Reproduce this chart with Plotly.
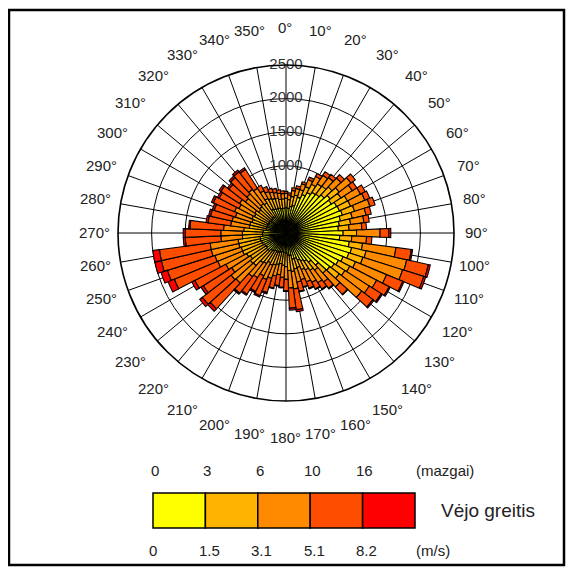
import math
import plotly.graph_objects as go

# ---- data -------------------------------------------------------------
directions = [0, 5, 10, 15, 20, 25, 30, 35, 40, 45, 50, 55, 60, 65, 70, 75, 80, 85,
              90, 95, 100, 105, 110, 115, 120, 125, 130, 135, 140, 145, 150, 155, 160, 165,
              170, 175, 180, 185, 190, 195, 200, 205, 210, 215, 220, 225, 230, 235, 240, 245,
              250, 255, 260, 265, 270, 275, 280, 285, 290, 295, 300, 305, 310, 315, 320, 325,
              330, 335, 340, 345, 350, 355]

c1 = [380, 370, 400, 420, 560, 620, 680, 720, 730, 770, 830, 800, 850, 860, 880, 830, 800, 780,
      850, 800, 950, 1000, 980, 920, 880, 850, 820, 650, 550, 500, 470, 440, 400, 400,
      340, 330, 300, 290, 280, 290, 300, 310, 300, 320, 330, 360, 370, 350, 360, 380,
      380, 390, 390, 350, 350, 340, 300, 300, 290, 300, 290, 300, 280, 290, 300, 290,
      400, 390, 380, 380, 370, 370]
c2 = [140, 130, 150, 160, 120, 130, 140, 150, 150, 160, 170, 170, 180, 180, 190, 180, 170, 160,
      200, 180, 200, 220, 220, 200, 190, 190, 180, 160, 150, 160, 150, 150, 140, 150,
      240, 230, 200, 190, 180, 190, 200, 210, 200, 220, 230, 300, 300, 280, 300, 320,
      320, 330, 330, 300, 300, 290, 250, 250, 240, 250, 240, 250, 230, 240, 250, 240,
      180, 170, 160, 150, 140, 140]
c3 = [70, 70, 90, 100, 90, 110, 130, 150, 160, 180, 220, 200, 220, 230, 240, 210, 200, 190,
      350, 220, 500, 620, 620, 500, 450, 430, 420, 280, 220, 220, 210, 200, 190, 200,
      260, 260, 190, 180, 170, 180, 210, 230, 220, 250, 260, 350, 360, 330, 350, 400,
      410, 420, 420, 320, 320, 300, 280, 270, 260, 280, 260, 270, 250, 260, 270, 260,
      130, 110, 100, 90, 90, 80]
c4 = [30, 30, 40, 40, 30, 40, 50, 60, 60, 70, 80, 80, 80, 80, 80, 80, 80, 70,
      130, 80, 230, 330, 330, 260, 210, 210, 210, 150, 120, 110, 110, 100, 110, 140,
      310, 300, 170, 150, 160, 180, 220, 260, 260, 290, 310, 520, 540, 500, 520, 700,
      740, 760, 760, 530, 530, 500, 340, 330, 330, 340, 330, 330, 310, 330, 330, 330,
      90, 80, 60, 60, 50, 40]
c5 = [0, 0, 0, 0, 0, 0, 0, 0, 0, 0, 0, 0, 0, 0, 0, 0, 0, 0,
      30, 0, 20, 30, 30, 20, 20, 20, 20, 10, 10, 10, 10, 10, 10, 10,
      30, 30, 10, 10, 10, 10, 20, 20, 20, 20, 20, 50, 50, 40, 50, 100,
      100, 100, 100, 30, 30, 20, 30, 30, 30, 30, 30, 30, 30, 30, 30, 30,
      0, 0, 0, 0, 0, 0]

class_values = [c1, c2, c3, c4, c5]
class_colors = ["#FFFF00", "#FFB400", "#FF8A00", "#FF4D00", "#FF0000"]
knots_labels = ["0", "3", "6", "10", "16"]
ms_labels = ["0", "1.5", "3.1", "5.1", "8.2"]
radial_ticks = [500, 1000, 1500, 2000, 2500]
radial_labels = [1000, 1500, 2000, 2500]
angle_ticks = list(range(0, 360, 10))

FONT = "Liberation Sans, Arial, sans-serif"
TXT = "#222222"
W, H = 574, 573
OFF = 8  # page body margin


def px(x):
    return (x - OFF) / W


def py(y):
    return 1 - (y - OFF) / H


fig = go.Figure()
for vals, col in zip(class_values, class_colors):
    fig.add_trace(go.Barpolar(
        r=vals, theta=directions, width=5,
        marker=dict(color=col, line=dict(color="black", width=1.1)),
        showlegend=False, hoverinfo="skip"))

fig.add_trace(go.Scatterpolar(
    r=radial_labels, theta=[0] * len(radial_labels), mode="text",
    text=[str(v) for v in radial_labels], textposition="middle center",
    textfont=dict(family=FONT, size=15, color="#333333"),
    showlegend=False, hoverinfo="skip", cliponaxis=False))

cx, cy, rad = 286, 233, 168
fig.update_layout(
    width=W, height=H,
    margin=dict(l=0, r=0, t=0, b=0),
    paper_bgcolor="white",
    font=dict(family=FONT, size=14, color=TXT),
    polar=dict(
        domain=dict(x=[px(cx - rad), px(cx + rad)],
                    y=[py(cy + rad), py(cy - rad)]),
        bgcolor="white",
        barmode="stack",
        radialaxis=dict(range=[0, 2500], tickvals=radial_ticks, showticklabels=False,
                        ticks="", showline=False, gridcolor="black", gridwidth=1.4,
                        angle=90),
        angularaxis=dict(direction="clockwise", rotation=90,
                         tickvals=angle_ticks, showticklabels=False, ticks="",
                         showline=True, linecolor="black", linewidth=1.6,
                         gridcolor="black", gridwidth=1.4),
    ),
)

shapes = []
# legend colour boxes
bx0, bx1, by0, by1 = 153, 415, 493, 528
step = (bx1 - bx0) / len(class_colors)
for i, col in enumerate(class_colors):
    shapes.append(dict(type="rect", xref="paper", yref="paper",
                       x0=px(bx0 + i * step), x1=px(bx0 + (i + 1) * step),
                       y0=py(by1), y1=py(by0),
                       fillcolor=col, line=dict(color="black", width=1.5)))
# outer frame
shapes.append(dict(type="rect", xref="paper", yref="paper",
                   x0=px(9), x1=px(564), y0=py(565), y1=py(10),
                   line=dict(color="black", width=2.5)))
fig.update_layout(shapes=shapes)

ann = []
# angular tick labels placed around the rose
lcx, lcy = 285, 232
for a in angle_ticks:
    t = math.radians(a)
    R = 205 - 14 * abs(math.sin(t)) ** 6
    ann.append(dict(x=px(lcx + R * math.sin(t)), y=py(lcy - R * math.cos(t)),
                    xref="paper", yref="paper", xanchor="center", yanchor="middle",
                    text=f"{a}°", showarrow=False,
                    font=dict(family=FONT, size=15, color=TXT)))

for i, t in enumerate(knots_labels):
    ann.append(dict(x=px(bx0 + i * step + 2), y=py(470), xref="paper", yref="paper",
                    xanchor="center", yanchor="middle",
                    text=t, showarrow=False, font=dict(size=15, color=TXT)))
for i, t in enumerate(ms_labels):
    ann.append(dict(x=px(bx0 + i * step + (4 if "." in t else 0)), y=py(550),
                    xref="paper", yref="paper", xanchor="center", yanchor="middle",
                    text=t, showarrow=False, font=dict(size=15, color=TXT)))
ann.append(dict(x=px(445), y=py(470), xref="paper", yref="paper", text="(mazgai)",
                xanchor="center", yanchor="middle",
                showarrow=False, font=dict(size=15, color=TXT)))
ann.append(dict(x=px(433), y=py(550), xref="paper", yref="paper", text="(m/s)",
                xanchor="center", yanchor="middle",
                showarrow=False, font=dict(size=15, color=TXT)))
ann.append(dict(x=px(488), y=py(510), xref="paper", yref="paper", text="Vėjo greitis",
                xanchor="center", yanchor="middle",
                showarrow=False, font=dict(size=19, color=TXT)))
fig.update_layout(annotations=ann)

fig.write_html("out.html")
